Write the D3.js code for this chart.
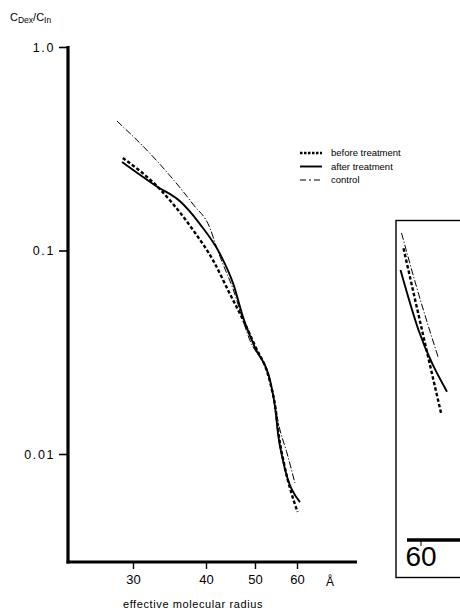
<!DOCTYPE html>
<html>
<head>
<meta charset="utf-8">
<script src="https://cdn.jsdelivr.net/npm/d3@7/dist/d3.min.js"></script>
<style>
  html, body { margin: 0; padding: 0; background: #fff; }
  svg { display: block; }
  text { font-family: "Liberation Sans Narrow", "Liberation Sans", Arial, sans-serif; fill: #000; }
</style>
</head>
<body>
<svg id="chart" width="460" height="613"></svg>
<script>
// ---- data ----
const xTicks = [30, 40, 50, 60];
const yTicks = [1.0, 0.1, 0.01];
const yTickLabels = ["1.0", "0.1", "0.01"];

const seriesNames = ["before treatment", "after treatment", "control"];

const radiusBefore = [28.6, 33.7, 35.5, 38.3, 41.5, 44.9, 47.3, 50.0, 53.6, 54.9, 55.7, 56.9, 60.1];
const valuesBefore = [0.285, 0.200, 0.169, 0.125, 0.089, 0.061, 0.047, 0.034, 0.0225, 0.0167, 0.0122, 0.0090, 0.0052];

const radiusAfter = [28.5, 33.2, 36.4, 39.2, 42.9, 45.6, 47.6, 50.0, 53.6, 54.8, 55.5, 56.7, 60.7];
const valuesAfter = [0.272, 0.207, 0.175, 0.1345, 0.0958, 0.0682, 0.0467, 0.0333, 0.0229, 0.0169, 0.0125, 0.0092, 0.0058];

const radiusControl = [27.8, 33.3, 38.2, 40.8, 42.2, 44.3, 44.9, 49.0, 53.6, 54.8, 56.0, 57.5, 59.5];
const valuesControl = [0.433, 0.275, 0.169, 0.129, 0.103, 0.0766, 0.0708, 0.036, 0.0229, 0.0169, 0.0130, 0.0103, 0.0072];

// fragment of the neighbouring figure visible at the right edge
const insetTick = [60];
const insetRadiusControl = [56.1, 59.1, 63.4];
const insetValuesControl = [0.1013, 0.0509, 0.0208];
const insetRadiusBefore = [56.5, 60.5, 64.1];
const insetValuesBefore = [0.0833, 0.0269, 0.00987];
const insetRadiusAfter = [55.9, 59.5, 65.2];
const insetValuesAfter = [0.0631, 0.0293, 0.0133];

// ---- drawing ----
const svg = d3.select("#chart");

const x = d3.scaleLinear().domain(xTicks).range([133, 206, 255, 297]);
const y = d3.scaleLog().domain([1, 0.01]).range([47, 454]);
const axisLeft = 68, axisBottom = 562;

const styles = {
  "before treatment": { width: 2.4, dash: "3.5,2.2" },
  "after treatment": { width: 1.9, dash: null },
  "control": { width: 1.0, dash: "7,2,1.2,2" }
};

const seriesData = [
  { name: "before treatment", r: radiusBefore, v: valuesBefore },
  { name: "after treatment", r: radiusAfter, v: valuesAfter },
  { name: "control", r: radiusControl, v: valuesControl }
];

const line = d3.line().x(d => x(d[0])).y(d => y(d[1])).curve(d3.curveMonotoneX);

seriesData.forEach(s => {
  const pts = s.r.map((r, i) => [r, s.v[i]]);
  const st = styles[s.name];
  svg.append("path")
    .attr("d", line(pts))
    .attr("fill", "none")
    .attr("stroke", "#000")
    .attr("stroke-width", st.width)
    .attr("stroke-dasharray", st.dash);
});

// axes
const gy = svg.append("g").attr("transform", `translate(${axisLeft},0)`);
gy.call(d3.axisLeft(y).tickValues(yTicks).tickFormat((d, i) => yTickLabels[i]).tickSize(9).tickPadding(4));
gy.select(".domain").remove();
gy.selectAll(".tick line").attr("stroke", "#000").attr("stroke-width", 1.6);
gy.selectAll(".tick text").attr("font-size", 12.5).attr("dy", "0.35em")
  .style("letter-spacing", "1.6px")
  .style("font-family", "'Liberation Sans Narrow','Liberation Sans',Arial,sans-serif");
svg.append("line")
  .attr("x1", axisLeft).attr("x2", axisLeft)
  .attr("y1", y(1) - 1).attr("y2", axisBottom + 1.5)
  .attr("stroke", "#000").attr("stroke-width", 3.2);

const gx = svg.append("g").attr("transform", `translate(0,${axisBottom})`);
gx.call(d3.axisBottom(x).tickValues(xTicks).tickFormat(d3.format("d")).tickSize(7).tickPadding(6));
gx.select(".domain").remove();
gx.selectAll(".tick line").attr("stroke", "#000").attr("stroke-width", 1.4);
gx.selectAll(".tick text").attr("font-size", 13).style("font-family", "'Liberation Sans Narrow','Liberation Sans',Arial,sans-serif");
svg.append("line")
  .attr("x1", axisLeft - 1.5).attr("x2", 357)
  .attr("y1", axisBottom).attr("y2", axisBottom)
  .attr("stroke", "#000").attr("stroke-width", 3.2);

svg.append("text").attr("x", x(60) + 33).attr("y", axisBottom + 24)
  .attr("text-anchor", "middle").attr("font-size", 12).text("Å");

svg.append("text").attr("x", 193).attr("y", 608)
  .attr("text-anchor", "middle").attr("font-size", 11)
  .style("font-family", "'Liberation Sans', Arial, sans-serif")
  .style("letter-spacing", "0.6px")
  .text("effective molecular radius");

// y label  C_Dex / C_In
const yl = svg.append("text").attr("x", 10).attr("y", 21).attr("font-size", 11)
  .style("font-family", "'Liberation Sans', Arial, sans-serif");
yl.append("tspan").text("C");
yl.append("tspan").attr("font-size", 8.5).attr("dy", 2).text("Dex");
yl.append("tspan").attr("dy", -2).text("/C");
yl.append("tspan").attr("font-size", 8.5).attr("dy", 2).text("In");

// legend
const legX = 300, legY0 = 153, legStep = 13.5;
seriesData.forEach((s, i) => {
  const st = styles[s.name];
  const yy = legY0 + i * legStep;
  svg.append("line")
    .attr("x1", legX).attr("x2", legX + 22).attr("y1", yy).attr("y2", yy)
    .attr("stroke", "#000").attr("stroke-width", st.width)
    .attr("stroke-dasharray", s.name === "before treatment" ? "2.5,1.5" : (s.name === "control" ? "6,3,2,3" : null));
  svg.append("text").attr("x", legX + 31).attr("y", yy).attr("dy", "0.35em")
    .attr("font-size", 9.5).style("font-family", "'Liberation Sans', Arial, sans-serif")
    .text(s.name);
});

// ---- right-edge fragment of neighbouring panel ----
const ix = d3.scaleLinear().domain([56, 60]).range([401, 421]);
const iy = d3.scaleLog().domain([0.1, 0.01]).range([234, 414]);
svg.append("rect").attr("x", 396).attr("y", 220.5).attr("width", 80).attr("height", 357)
  .attr("fill", "none").attr("stroke", "#000").attr("stroke-width", 1.4);
const iline = d3.line().x(d => ix(d[0])).y(d => iy(d[1])).curve(d3.curveMonotoneX);
[
  { r: insetRadiusControl, v: insetValuesControl, st: styles["control"] },
  { r: insetRadiusBefore, v: insetValuesBefore, st: styles["before treatment"] },
  { r: insetRadiusAfter, v: insetValuesAfter, st: styles["after treatment"] }
].forEach(s => {
  svg.append("path").attr("d", iline(s.r.map((r, i) => [r, s.v[i]])))
    .attr("fill", "none").attr("stroke", "#000")
    .attr("stroke-width", s.st.width).attr("stroke-dasharray", s.st.dash);
});
svg.append("line").attr("x1", 407).attr("x2", 462).attr("y1", 540).attr("y2", 540)
  .attr("stroke", "#000").attr("stroke-width", 3.5);
svg.append("line").attr("x1", ix(insetTick[0])).attr("x2", ix(insetTick[0])).attr("y1", 540).attr("y2", 546)
  .attr("stroke", "#000").attr("stroke-width", 1);
svg.append("text").attr("x", ix(insetTick[0])).attr("y", 566).attr("text-anchor", "middle")
  .attr("font-size", 28).text(insetTick[0]);
</script>
</body>
</html>
